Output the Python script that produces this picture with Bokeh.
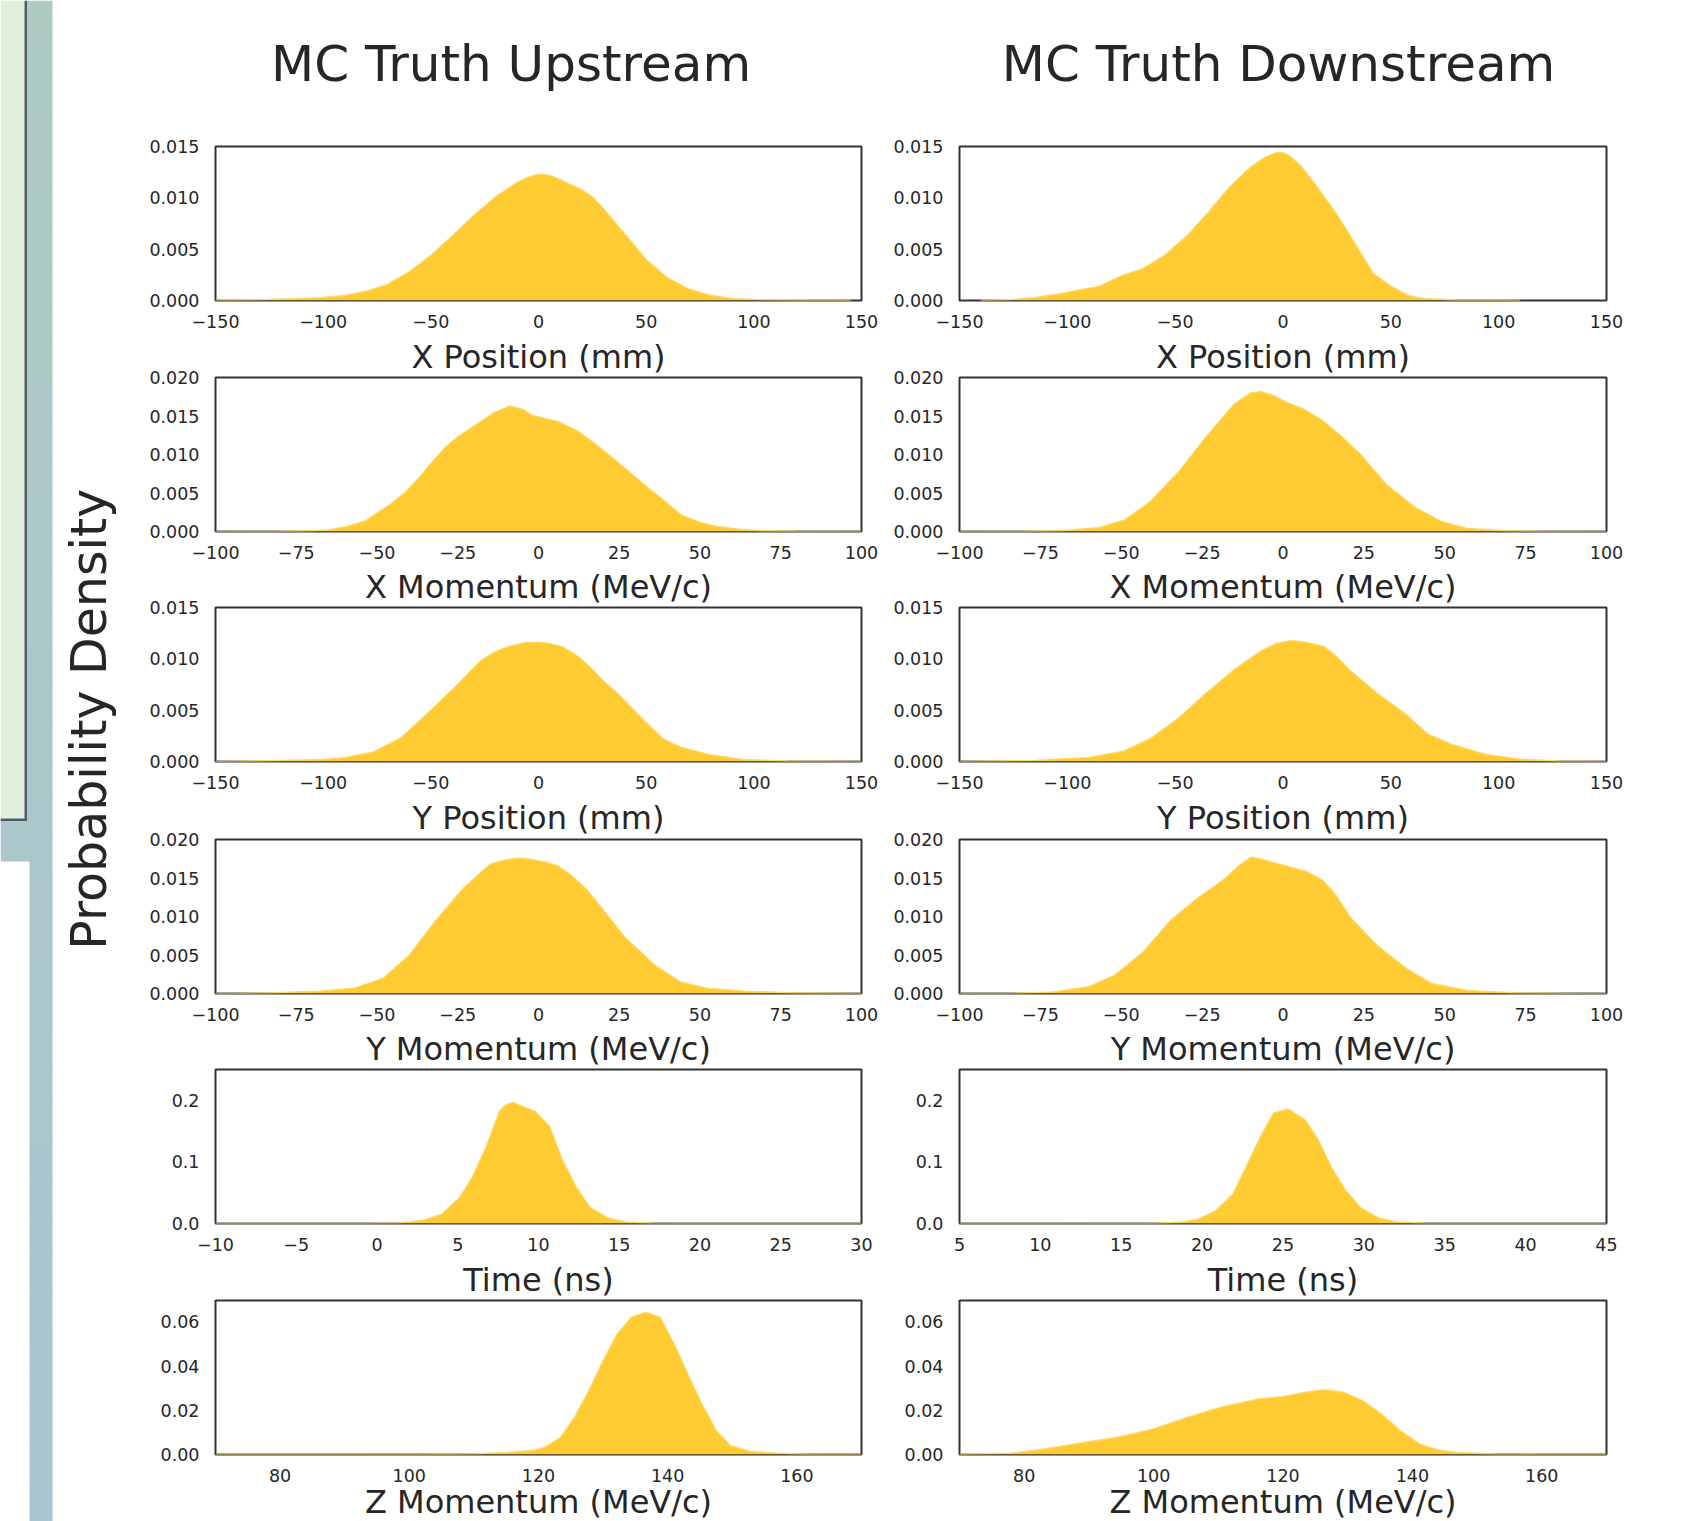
from bokeh.plotting import figure
from bokeh.layouts import row, column
from bokeh.models import Range1d, FixedTicker, Label, Title, NumeralTickFormatter, CustomJSTickFormatter
from bokeh.embed import file_html
from bokeh.resources import INLINE

FONT = "DejaVu Sans"
TXT = "#262626"
FILL = "#FFCB33"
EDGE = "#FFD966"

# ---------------- data ----------------
col_titles = ["MC Truth Upstream", "MC Truth Downstream"]
y_title = "Probability Density"
row_labels = ["X Position (mm)", "X Momentum (MeV/c)", "Y Position (mm)",
              "Y Momentum (MeV/c)", "Time (ns)", "Z Momentum (MeV/c)"]

# X position
xpos_up_x = [-150, -125, -110, -100, -90, -80, -70, -60, -50, -40, -30, -20, -10, -5, 0, 5, 10, 15, 20, 25, 30, 40, 50, 60, 70, 80, 90, 100, 125, 145]
xpos_up_y = [0.00003, 0.0001, 0.0002, 0.0003, 0.0005, 0.0009, 0.0016, 0.0028, 0.0044, 0.0063, 0.0083, 0.0101, 0.0115, 0.0120, 0.0123, 0.0122, 0.0118, 0.0113, 0.0108, 0.0101, 0.0090, 0.0065, 0.0040, 0.0022, 0.0011, 0.0005, 0.0002, 0.0001, 0.00005, 0.00002]
xpos_dn_x = [-140, -125, -115, -105, -95, -85, -75, -65, -55, -45, -35, -25, -15, -8, -3, 0, 3, 8, 15, 25, 35, 42, 50, 58, 65, 80, 110]
xpos_dn_y = [0.00002, 0.0001, 0.0003, 0.0006, 0.0010, 0.0014, 0.0024, 0.0031, 0.0044, 0.0062, 0.0085, 0.0110, 0.0130, 0.0140, 0.0144, 0.0144, 0.0141, 0.0132, 0.0113, 0.0084, 0.0050, 0.0026, 0.0014, 0.0005, 0.0002, 0.00005, 0.00002]

# X momentum
px_up_x = [-100, -80, -71, -65, -60, -54, -46, -41, -37, -33, -29, -25, -20, -14, -9, -5, -2, 2, 6, 12, 17, 22, 28, 33, 39, 44, 50, 55, 62, 69, 80, 100]
px_up_y = [0.00001, 0.00003, 0.0001, 0.0002, 0.0006, 0.0013, 0.0035, 0.0052, 0.0070, 0.0090, 0.0109, 0.0123, 0.0137, 0.0154, 0.0163, 0.0159, 0.0151, 0.0147, 0.0143, 0.0131, 0.0116, 0.0099, 0.0078, 0.0060, 0.0040, 0.0022, 0.0012, 0.0007, 0.0003, 0.0001, 0.00003, 0.00001]
px_dn_x = [-100, -80, -69, -57, -49, -41, -32, -24, -15, -10, -7, -3, 1, 6, 12, 18, 24, 32, 41, 49, 57, 69, 80, 100]
px_dn_y = [0.00001, 0.00003, 0.0001, 0.0005, 0.0015, 0.0039, 0.0079, 0.0122, 0.0166, 0.0180, 0.0182, 0.0177, 0.0168, 0.0160, 0.0145, 0.0124, 0.0100, 0.0061, 0.0031, 0.0013, 0.0004, 0.0001, 0.00003, 0.00001]

# Y position
ypos_up_x = [-150, -131, -115, -100, -90, -77, -64, -52, -39, -27, -20, -14, -6, 0, 5, 11, 18, 24, 30, 37, 43, 49, 58, 66, 79, 95, 116, 150]
ypos_up_y = [0.00002, 0.00005, 0.00013, 0.0002, 0.0004, 0.0009, 0.0023, 0.0046, 0.0072, 0.0098, 0.0107, 0.0112, 0.0116, 0.0116, 0.0115, 0.0112, 0.0103, 0.0092, 0.0079, 0.0066, 0.0053, 0.0040, 0.0022, 0.0014, 0.0007, 0.0002, 0.00005, 0.00001]
ypos_dn_x = [-150, -115, -90, -74, -61, -48, -36, -23, -10, -3, 4, 11, 19, 25, 31, 44, 57, 67, 78, 94, 111, 128, 150]
ypos_dn_y = [0.00001, 0.0001, 0.0004, 0.0010, 0.0023, 0.0043, 0.0066, 0.0089, 0.0108, 0.0115, 0.0118, 0.0116, 0.0112, 0.0102, 0.0089, 0.0066, 0.0046, 0.0027, 0.0017, 0.0007, 0.0002, 0.00005, 0.00001]

# Y momentum
py_up_x = [-100, -90, -82, -68, -57, -48, -40, -32, -23, -15, -10, -6, -2, 2, 6, 10, 15, 19, 27, 36, 44, 52, 64, 78, 92, 100]
py_up_y = [0.00001, 0.00003, 0.0001, 0.0003, 0.0007, 0.0020, 0.0050, 0.0094, 0.0138, 0.0168, 0.0174, 0.0176, 0.0174, 0.0171, 0.0166, 0.0154, 0.0135, 0.0114, 0.0072, 0.0037, 0.0015, 0.0007, 0.0003, 0.0001, 0.00005, 0.00002]
py_dn_x = [-100, -83, -71, -60, -52, -43, -35, -27, -18, -14, -10, -7, -1, 7, 12, 16, 21, 29, 38, 46, 57, 71, 85, 100]
py_dn_y = [0.00001, 0.00005, 0.0002, 0.0009, 0.0024, 0.0055, 0.0094, 0.0122, 0.0149, 0.0165, 0.0177, 0.0175, 0.0168, 0.0159, 0.0148, 0.0130, 0.0098, 0.0063, 0.0033, 0.0013, 0.0004, 0.0001, 0.00003, 0.00001]

# Time
t_up_x = [-10, -0.8, 1.4, 2.8, 4.0, 5.1, 5.9, 6.75, 7.6, 8.0, 8.45, 9.0, 9.8, 10.7, 11.5, 12.35, 13.2, 14.3, 15.4, 17.1, 20, 30]
t_up_y = [0.0, 0.0002, 0.001, 0.005, 0.015, 0.042, 0.075, 0.124, 0.184, 0.193, 0.197, 0.190, 0.182, 0.157, 0.102, 0.0585, 0.026, 0.0093, 0.0027, 0.0005, 0.0001, 0.0]
t_dn_x = [5, 16.9, 18.6, 19.7, 20.8, 21.9, 22.7, 23.6, 24.4, 25.3, 26.4, 27.2, 28.0, 28.9, 29.8, 30.9, 32.0, 33.7, 36, 45]
t_dn_y = [0.0, 0.0003, 0.002, 0.0066, 0.020, 0.048, 0.091, 0.141, 0.179, 0.186, 0.168, 0.135, 0.091, 0.053, 0.026, 0.0093, 0.0027, 0.0005, 0.0001, 0.0]

# Z momentum
pz_up_x = [70, 90, 102, 110, 115, 119, 121, 123.4, 125.6, 127.8, 130, 132.2, 134.4, 136.6, 138.8, 141, 143.1, 145.3, 147.5, 149.7, 152.6, 157, 162, 170]
pz_up_y = [0.00002, 0.00005, 0.0001, 0.0003, 0.0009, 0.0018, 0.0033, 0.0078, 0.0169, 0.0290, 0.0425, 0.0546, 0.0622, 0.0644, 0.0622, 0.0501, 0.0365, 0.0229, 0.0109, 0.0041, 0.0015, 0.0006, 0.0001, 0.00002]
pz_dn_x = [70, 78, 83.4, 88.5, 94.3, 100, 105.3, 110.4, 116.2, 119.9, 123.5, 126.4, 129.3, 132.3, 135.2, 138.1, 141.1, 144, 147, 152.8, 160, 170]
pz_dn_y = [0.0002, 0.0006, 0.0026, 0.0051, 0.0078, 0.0116, 0.0169, 0.0214, 0.0252, 0.0262, 0.0282, 0.0293, 0.0282, 0.0244, 0.0184, 0.0109, 0.0048, 0.0021, 0.0009, 0.0002, 0.00005, 0.00001]

# axis limits / ticks
pos_ticks = [-150, -100, -50, 0, 50, 100, 150]
mom_ticks = [-100, -75, -50, -25, 0, 25, 50, 75, 100]
t_up_ticks = [-10, -5, 0, 5, 10, 15, 20, 25, 30]
t_dn_ticks = [5, 10, 15, 20, 25, 30, 35, 40, 45]
pz_ticks = [80, 100, 120, 140, 160]
y015_ticks = [0.0, 0.005, 0.010, 0.015]
y020_ticks = [0.0, 0.005, 0.010, 0.015, 0.020]
yt_ticks = [0.0, 0.1, 0.2]
yz_ticks = [0.0, 0.02, 0.04, 0.06]

rows = [
    dict(series=[(xpos_up_x, xpos_up_y), (xpos_dn_x, xpos_dn_y)], xr=[(-150, 150), (-150, 150)],
         xt=[pos_ticks, pos_ticks], ymax=0.015, yt=y015_ticks, yfmt="0.000"),
    dict(series=[(px_up_x, px_up_y), (px_dn_x, px_dn_y)], xr=[(-100, 100), (-100, 100)],
         xt=[mom_ticks, mom_ticks], ymax=0.020, yt=y020_ticks, yfmt="0.000"),
    dict(series=[(ypos_up_x, ypos_up_y), (ypos_dn_x, ypos_dn_y)], xr=[(-150, 150), (-150, 150)],
         xt=[pos_ticks, pos_ticks], ymax=0.015, yt=y015_ticks, yfmt="0.000"),
    dict(series=[(py_up_x, py_up_y), (py_dn_x, py_dn_y)], xr=[(-100, 100), (-100, 100)],
         xt=[mom_ticks, mom_ticks], ymax=0.020, yt=y020_ticks, yfmt="0.000"),
    dict(series=[(t_up_x, t_up_y), (t_dn_x, t_dn_y)], xr=[(-10, 30), (5, 45)],
         xt=[t_up_ticks, t_dn_ticks], ymax=0.25, yt=yt_ticks, yfmt="0.0"),
    dict(series=[(pz_up_x, pz_up_y), (pz_dn_x, pz_dn_y)], xr=[(70, 170), (70, 170)],
         xt=[pz_ticks, pz_ticks], ymax=0.0697, yt=yz_ticks, yfmt="0.00"),
]

# ---------------- layout constants (page pixels) ----------------
FRAME_H = 154
FIG_TOP = [12, 47, 46, 48, 46, 47]     # border above each frame (holds previous row's x title)
TITLE_SO = [0, 4, 3, 5, 3, 4]          # standoff of that x title
FIG_BOT = 30                           # border below each frame (tick labels)
LAST_LAB_H = 37                        # strip under the last row for its x title
HDR_H = 134
LW = 130
COL_W = [754, 798]
COL_LB = [85, 75]
COL_RB = [23, 76]

minus_fmt = CustomJSTickFormatter(code="return tick < 0 ? '\u2212' + Math.abs(tick) : '' + tick;")


def blank(w, h):
    f = figure(width=w, height=h, x_range=Range1d(0, w), y_range=Range1d(h, 0),
               output_backend="svg", toolbar_location=None, min_border=0,
               x_axis_type=None, y_axis_type=None, outline_line_color=None)
    f.grid.visible = False
    f.background_fill_color = "white"
    f.border_fill_color = "white"
    return f


def panel(xs, ys, xr, xt, ymax, yt, yfmt, w, lb, rb, tb, above_text, above_so):
    h = tb + FRAME_H + FIG_BOT
    p = figure(width=w, height=h, x_range=Range1d(*xr), y_range=Range1d(0, ymax),
               output_backend="svg", toolbar_location=None,
               min_border_left=lb, min_border_right=rb, min_border_top=tb,
               min_border_bottom=FIG_BOT)
    if above_text:
        p.add_layout(Title(text=above_text, align="center", standoff=above_so, text_font=FONT,
                           text_font_size="32px", text_font_style="normal", text_color=TXT), "above")
    p.varea(x=xs, y1=[0] * len(xs), y2=ys, fill_color=FILL, fill_alpha=1.0)
    p.line(xs, ys, line_color=EDGE, line_width=1.3)
    p.xgrid.visible = False
    p.ygrid.visible = False
    p.outline_line_color = "#333333"
    p.outline_line_width = 2
    p.outline_line_alpha = 1
    p.background_fill_color = "white"
    p.border_fill_color = "white"
    for ax in (p.xaxis[0], p.yaxis[0]):
        ax.axis_line_color = None
        ax.major_tick_line_color = None
        ax.minor_tick_line_color = None
        ax.major_label_text_font = FONT
        ax.major_label_text_font_size = "17.5px"
        ax.major_label_text_color = TXT
    xa = p.xaxis[0]
    xa.ticker = FixedTicker(ticks=xt)
    xa.formatter = minus_fmt
    xa.major_label_standoff = 8
    ya = p.yaxis[0]
    ya.ticker = FixedTicker(ticks=yt)
    ya.formatter = NumeralTickFormatter(format=yfmt)
    ya.major_label_standoff = 10
    return p


# header with column titles
hdr = blank(sum(COL_W), HDR_H)
for cx, t in zip([380.6, 1148], col_titles):
    hdr.add_layout(Label(x=cx, y=63, text=t, text_align="center", text_baseline="alphabetic",
                         text_font=FONT, text_font_size="50px", text_color=TXT))

rows_layout = [hdr]
for i, spec in enumerate(rows):
    figs = []
    for c in range(2):
        xs, ys = spec["series"][c]
        above = row_labels[i - 1] if i > 0 else None
        figs.append(panel(xs, ys, spec["xr"][c], spec["xt"][c], spec["ymax"], spec["yt"], spec["yfmt"],
                          COL_W[c], COL_LB[c], COL_RB[c], FIG_TOP[i], above, TITLE_SO[i]))
    rows_layout.append(row(*figs, spacing=0))

# x title of the last row, in a strip at the bottom edge
labs = []
for c in range(2):
    lf = blank(COL_W[c], LAST_LAB_H)
    frame_w = COL_W[c] - COL_LB[c] - COL_RB[c]
    lf.add_layout(Label(x=COL_LB[c] + frame_w / 2.0, y=17, text=row_labels[-1],
                        text_align="center", text_baseline="alphabetic", text_font=FONT,
                        text_font_size="32px", text_color=TXT))
    labs.append(lf)
rows_layout.append(row(*labs, spacing=0))
main = column(*rows_layout, spacing=0)

# left strip: poster decoration + shared y label
LH = HDR_H + sum(FIG_TOP) + 6 * (FRAME_H + FIG_BOT) + LAST_LAB_H
left = blank(LW, LH)


def mix(c1, c2, f):
    a = [int(c1[k:k + 2], 16) for k in (1, 3, 5)]
    b = [int(c2[k:k + 2], 16) for k in (1, 3, 5)]
    return "#%02x%02x%02x" % tuple(round(a[j] + (b[j] - a[j]) * f) for j in range(3))


TOPC, BOTC = "#AECAC3", "#AAC4D1"
n = 40
for k in range(n):
    y0 = LH * k / n
    y1 = LH * (k + 1) / n
    col = mix(TOPC, BOTC, (k + 0.5) / n)
    xl = 26.5 if y1 <= 861 else 29
    left.quad(left=xl, right=52, top=y0, bottom=y1 + 0.5, fill_color=col, line_color=None)
left.quad(left=0, right=30, top=819, bottom=861, fill_color=mix(TOPC, BOTC, 0.56), line_color=None)
left.quad(left=0, right=24, top=0, bottom=818, fill_color="#E2EFDA", line_color=None)
left.quad(left=24, right=26.5, top=0, bottom=820.5, fill_color="#4C5B6B", line_color=None)
left.quad(left=0, right=26.5, top=818, bottom=820.5, fill_color="#4C5B6B", line_color=None)
left.add_layout(Label(x=89, y=718.7, text=y_title, angle=1.5707963, text_align="center",
                      text_baseline="alphabetic", text_font=FONT, text_font_size="49px", text_color=TXT))

layout = row(left, main, spacing=0)
open("out.html", "w").write(file_html(layout, INLINE))
